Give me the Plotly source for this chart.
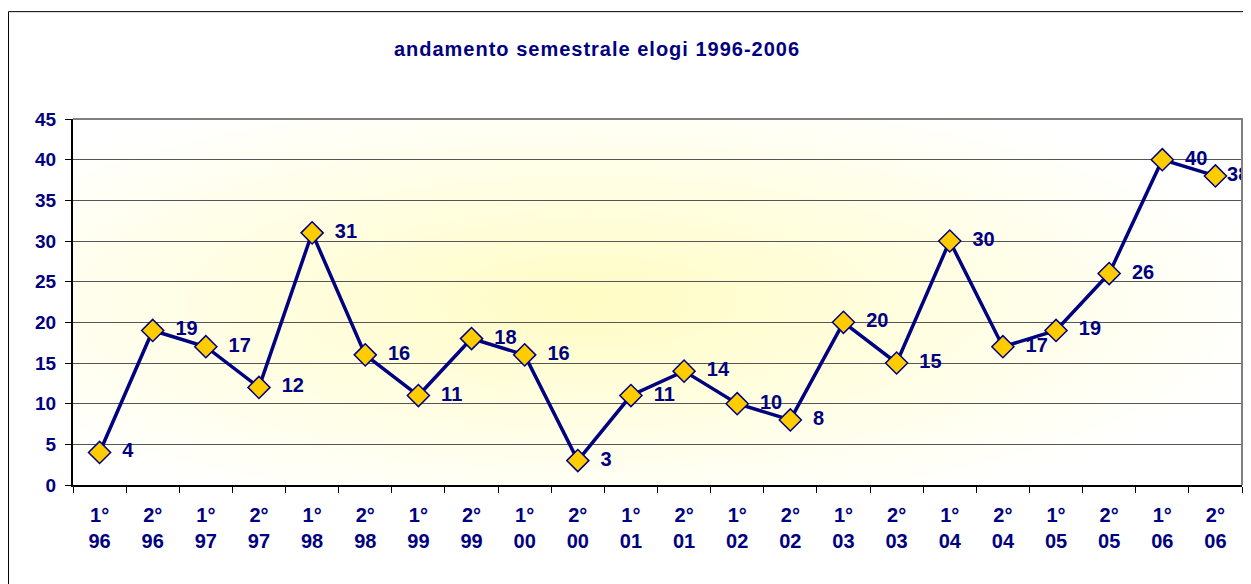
import base64
import plotly.graph_objects as go

## Dati --------------------------------------------------------------------------------

semestri = ["1°", "2°"] * 11
anni = ["96", "96", "97", "97", "98", "98", "99", "99", "00", "00", "01",
        "01", "02", "02", "03", "03", "04", "04", "05", "05", "06", "06"]
elogi = [4, 19, 17, 12, 31, 16, 11, 18, 16, 3, 11, 14, 10, 8, 20, 15, 30, 17, 19, 26, 40, 38]

categorie = [f"{s} {a}" for s, a in zip(semestri, anni)]
etichette = [f"{s}<br>{a}" for s, a in zip(semestri, anni)]

NAVY = "#000080"
FONT = "Liberation Sans, Arial, sans-serif"

# la pagina html ha un margine di 8px: la figura e' piu' piccola di 8px
W, H = 1243, 576
L, T = 64.5, 110.5          # bordo sinistro / alto dell'area del tracciato
PW, PH = 1169.5, 366.5       # larghezza / altezza dell'area del tracciato

## sfondo sfumato (radial gradient come in Excel) ----------------------------------------

svg = ('<svg xmlns="http://www.w3.org/2000/svg" width="1170" height="367" '
       'viewBox="0 0 1170 367" preserveAspectRatio="none">'
       '<defs><radialGradient id="g" cx="0.44" cy="0.5" r="0.6">'
       '<stop offset="0" stop-color="#FFFCC4"/>'
       '<stop offset="0.55" stop-color="#FFFEE4"/>'
       '<stop offset="1" stop-color="#FFFFFF"/>'
       '</radialGradient></defs>'
       '<rect width="1170" height="367" fill="url(#g)"/></svg>')
sfondo = "data:image/svg+xml;base64," + base64.b64encode(svg.encode()).decode()

## Grafico ------------------------------------------------------------------------------

# l'ultima etichetta e' piu' vicina al punto (come in Excel, per starci)
modelli = ["  %{text}"] * (len(elogi) - 1) + ["%{text}"]

fig = go.Figure(go.Scatter(
    x=categorie, y=elogi,
    mode="lines+markers+text",
    line=dict(color=NAVY, width=3.5),
    marker=dict(symbol="diamond", size=17, color="#FFCC00",
                line=dict(color=NAVY, width=1.5)),
    text=elogi, texttemplate=modelli,
    textposition="middle right",
    textfont=dict(family=FONT, size=20, color=NAVY, weight="bold"),
    cliponaxis=False,
    hoverinfo="x+y",
))

fig.add_layout_image(dict(source=sfondo, xref="paper", yref="paper",
                          x=0, y=1, sizex=1, sizey=1, sizing="stretch",
                          xanchor="left", yanchor="top", layer="below"))

# bordo del grafico (pagina: x=8, y=11)
fig.add_shape(type="rect", xref="paper", yref="paper",
              x0=-L / PW, y0=-0.5, x1=1.2, y1=1 + (T - 3) / PH,
              line=dict(color="black", width=1), fillcolor="rgba(0,0,0,0)")
# bordo grigio dell'area del tracciato (alto e destra)
fig.add_shape(type="path", xref="paper", yref="paper",
              path="M 0,1 L 1,1 L 1,0",
              line=dict(color="#808080", width=2))

fig.update_layout(
    width=W, height=H,
    margin=dict(l=L, r=W - L - PW, t=T, b=H - T - PH, autoexpand=False),
    paper_bgcolor="white",
    plot_bgcolor="rgba(0,0,0,0)",
    showlegend=False,
    title=dict(text='<span style="letter-spacing:1px">andamento semestrale elogi 1996-2006</span>',
               x=589 / W, xref="container", xanchor="center",
               y=1 - 41 / H, yref="container", yanchor="middle",
               font=dict(family=FONT, size=20, color=NAVY, weight="bold")),
)

fig.update_xaxes(
    type="category", tickmode="array", tickvals=categorie, ticktext=etichette,
    range=[-0.5, len(categorie) - 0.5], autorange=False,
    tickson="boundaries", ticks="outside", ticklen=6, tickcolor="black",
    showline=True, linecolor="black", linewidth=1.5,
    showgrid=False, ticklabelstandoff=11,
    tickfont=dict(family=FONT, size=20, color=NAVY, weight="bold"),
)

fig.update_yaxes(
    range=[0, 45], dtick=5, tick0=0, autorange=False,
    ticks="outside", ticklen=6, tickcolor="black",
    showline=True, linecolor="black", linewidth=2,
    showgrid=True, gridcolor="#555555", gridwidth=1,
    zeroline=False, ticklabelstandoff=5,
    tickfont=dict(family=FONT, size=19, color=NAVY, weight="bold"),
)

fig.write_html("out.html")
